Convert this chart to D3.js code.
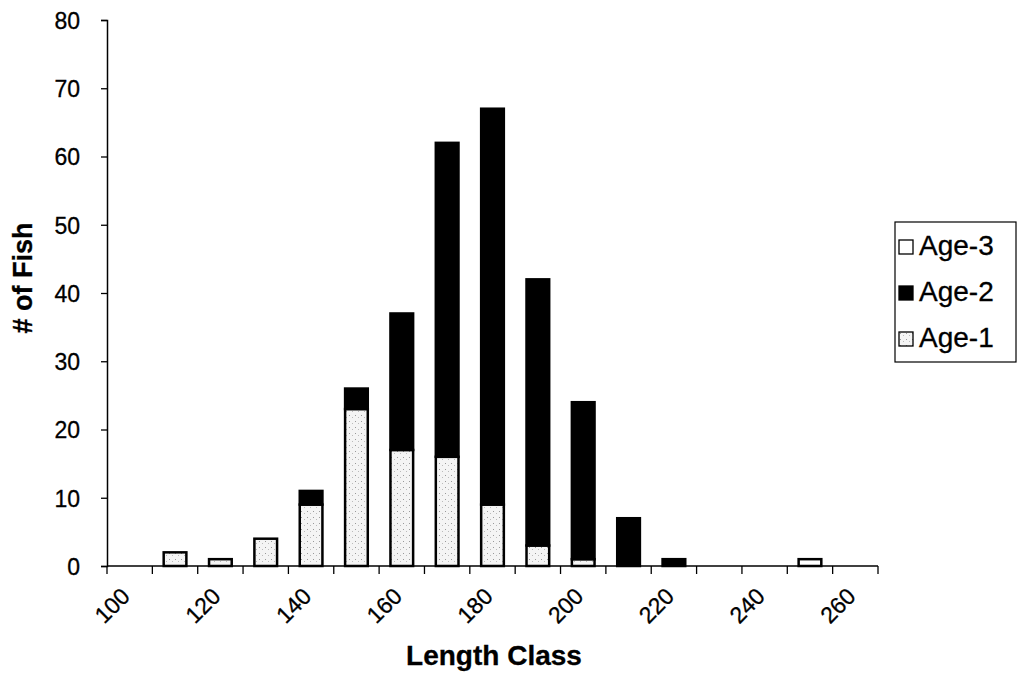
<!DOCTYPE html>
<html>
<head>
<meta charset="utf-8">
<style>
  body { margin: 0; background: #fff; }
  text { font-family: Arial, "Liberation Sans", sans-serif; fill: #000; stroke: #000; stroke-width: 0.3px; }
</style>
</head>
<body>
<script src="https://cdn.jsdelivr.net/npm/d3@7"></script>
<script>
// length classes (mm) and counts per age group
var categories = [100, 110, 120, 130, 140, 150, 160, 170, 180, 190, 200, 210, 220, 230, 240, 250, 260];
var age1 = [0, 2, 1, 4, 9, 23, 17, 16, 9, 3, 1, 0, 0, 0, 0, 0, 0];
var age2 = [0, 0, 0, 0, 2, 3, 20, 46, 58, 39, 23, 7, 1, 0, 0, 0, 0];
var age3 = [0, 0, 0, 0, 0, 0, 0, 0, 0, 0, 0, 0, 0, 0, 0, 1, 0];
var seriesNames = ["Age-1", "Age-2", "Age-3"];
var yTicks = [0, 10, 20, 30, 40, 50, 60, 70, 80];
var xLabels = [100, 120, 140, 160, 180, 200, 220, 240, 260];

var W = 1017, H = 692;
var plot = {left: 107, right: 878, top: 20, bottom: 566};

var svg = d3.select("body").append("svg")
    .attr("width", W).attr("height", H);

// stipple pattern for Age-1
var defs = svg.append("defs");
var pat = defs.append("pattern")
    .attr("id", "stipple")
    .attr("width", 6).attr("height", 6)
    .attr("patternUnits", "userSpaceOnUse");
pat.append("rect").attr("width", 6).attr("height", 6).attr("fill", "#f4f4f4");
pat.append("rect").attr("x", 1).attr("y", 1).attr("width", 1).attr("height", 1).attr("fill", "#999");
pat.append("rect").attr("x", 4).attr("y", 3).attr("width", 1).attr("height", 1).attr("fill", "#bbb");

var fills = {"Age-1": "url(#stipple)", "Age-2": "#000", "Age-3": "#fff"};

var rows = categories.map(function(c, i) {
    return {cat: c, "Age-1": age1[i], "Age-2": age2[i], "Age-3": age3[i]};
});

var x = d3.scaleBand()
    .domain(categories)
    .range([plot.left, plot.right])
    .paddingInner(0.5)
    .paddingOuter(0.25);

var y = d3.scaleLinear()
    .domain([0, 80])
    .range([plot.bottom, plot.top]);

var stack = d3.stack().keys(seriesNames)(rows);

// bars
svg.append("g").selectAll("g")
    .data(stack)
    .enter().append("g")
    .attr("fill", function(d) { return fills[d.key]; })
    .selectAll("rect")
    .data(function(d) { return d.filter(function(p) { return p[1] - p[0] > 0; }); })
    .enter().append("rect")
    .attr("x", function(d) { return x(d.data.cat); })
    .attr("y", function(d) { return y(d[1]); })
    .attr("width", x.bandwidth())
    .attr("height", function(d) { return y(d[0]) - y(d[1]); })
    .attr("stroke", "#000")
    .attr("stroke-width", 2.5);

// y axis
var yAxis = svg.append("g")
    .attr("transform", "translate(" + plot.left + ",0)")
    .call(d3.axisLeft(y).tickValues(yTicks).tickSize(6).tickPadding(21));
yAxis.select(".domain").attr("stroke", "#000").attr("stroke-width", 1.5);
yAxis.selectAll(".tick line").attr("stroke-width", 1.3);
yAxis.selectAll(".tick text")
    .style("font-size", "23px")
    .attr("dy", "0.36em");

// x axis: line with ticks on category boundaries
var step = x.step();
var bounds = categories.map(function(c) { return x(c) - (step - x.bandwidth()) / 2; });
bounds.push(plot.right);
var xg = svg.append("g");
xg.append("line")
    .attr("x1", plot.left).attr("x2", plot.right)
    .attr("y1", plot.bottom).attr("y2", plot.bottom)
    .attr("stroke", "#000").attr("stroke-width", 1.5);
xg.selectAll("line.tk")
    .data(bounds)
    .enter().append("line")
    .attr("class", "tk")
    .attr("x1", function(d) { return d; }).attr("x2", function(d) { return d; })
    .attr("y1", plot.bottom).attr("y2", plot.bottom + 8)
    .attr("stroke", "#000").attr("stroke-width", 1.3);

xg.selectAll("text")
    .data(xLabels)
    .enter().append("text")
    .attr("transform", function(d) {
        var cx = x(d) + x.bandwidth() / 2;
        return "translate(" + (cx - 4) + "," + (plot.bottom + 26) + ") rotate(-45)";
    })
    .attr("text-anchor", "end")
    .attr("dy", "0.35em")
    .style("font-size", "23px")
    .text(function(d) { return d; });

// axis titles
svg.append("text")
    .attr("x", 494)
    .attr("y", 665)
    .attr("text-anchor", "middle")
    .style("font-size", "28px")
    .style("font-weight", "bold")
    .text("Length Class");

svg.append("text")
    .attr("transform", "translate(32," + 278 + ") rotate(-90)")
    .attr("text-anchor", "middle")
    .style("font-size", "27px")
    .style("font-weight", "bold")
    .text("# of Fish");

// legend (Age-3 on top, like the reference)
var legend = svg.append("g").attr("transform", "translate(895,222)");
legend.append("rect")
    .attr("width", 121).attr("height", 140)
    .attr("fill", "#fff").attr("stroke", "#000").attr("stroke-width", 1.2);
var items = seriesNames.slice().reverse();
var li = legend.selectAll("g.item")
    .data(items)
    .enter().append("g")
    .attr("class", "item")
    .attr("transform", function(d, i) { return "translate(4," + (18 + i * 46) + ")"; });
li.append("rect")
    .attr("width", 14).attr("height", 14)
    .attr("fill", function(d) { return fills[d]; })
    .attr("stroke", "#000").attr("stroke-width", 1.3);
li.append("text")
    .attr("x", 20).attr("y", 15)
    .style("font-size", "28px")
    .text(function(d) { return d; });
</script>
</body>
</html>
